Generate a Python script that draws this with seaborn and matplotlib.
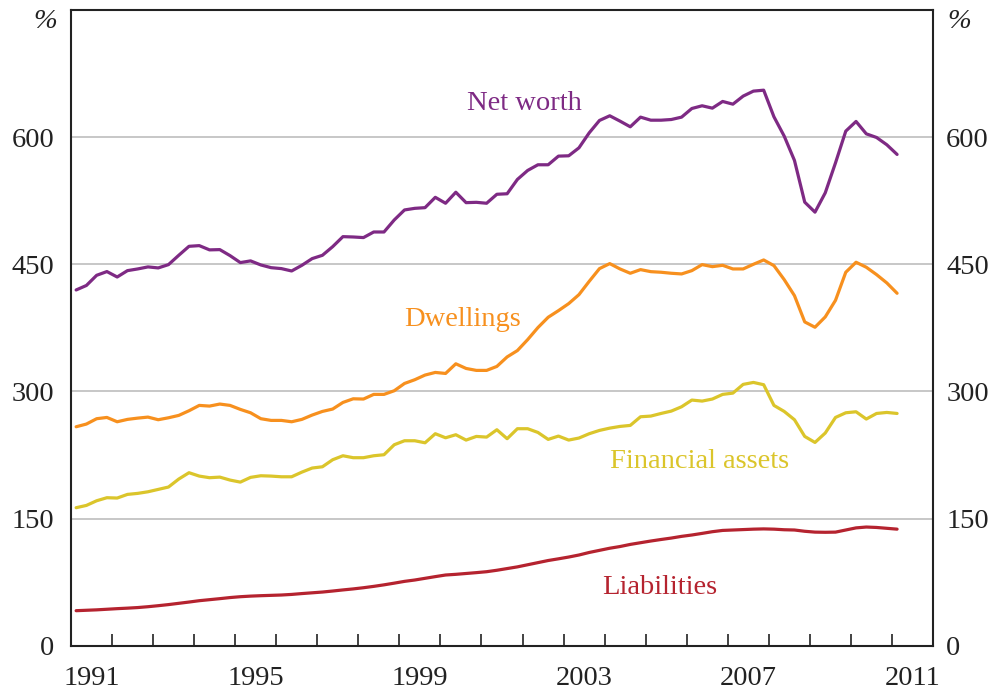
import numpy as np
import pandas as pd
import matplotlib
matplotlib.use("Agg")
import matplotlib.pyplot as plt
import seaborn as sns

# Quarterly observations, 1991 Q1 .. 2011 Q1 (81 quarters)
quarters = pd.period_range("1991Q1", "2011Q1", freq="Q")

net_worth = [419.7, 425.0, 437.0, 441.4, 435.0, 442.5, 444.5, 446.9, 445.7, 449.6,
             460.6, 471.2, 472.0, 467.0, 467.3, 460.2, 452.0, 454.0, 449.2, 446.0,
             444.9, 442.1, 448.8, 456.7, 460.6, 470.8, 482.6, 482.2, 481.5, 488.1,
             488.1, 502.3, 514.1, 516.0, 516.8, 529.0, 522.0, 535.0, 522.7, 523.1,
             522.0, 532.6, 533.2, 550.1, 560.7, 567.4, 567.4, 577.6, 578.0, 587.4,
             605.1, 619.7, 625.2, 618.9, 612.2, 623.6, 620.0, 620.0, 620.8, 623.6,
             633.8, 637.0, 634.2, 642.1, 638.9, 648.4, 654.3, 655.4, 624.0, 601.2,
             572.5, 523.3, 511.5, 534.3, 569.7, 607.1, 618.5, 603.9, 599.6, 591.0,
             579.6]

dwellings = [258.3, 261.5, 267.8, 269.3, 264.2, 267.0, 268.5, 269.7, 266.6, 268.9,
             271.7, 277.2, 283.5, 282.7, 285.1, 283.5, 278.8, 274.8, 267.8, 265.8,
             265.8, 264.2, 267.0, 272.1, 276.4, 279.2, 287.0, 291.3, 291.0, 296.5,
             296.5, 300.8, 309.4, 313.8, 319.3, 322.4, 321.2, 332.6, 327.1, 324.8,
             324.8, 329.5, 340.7, 348.2, 361.1, 375.3, 387.5, 395.3, 403.6, 414.2,
             429.9, 444.9, 450.8, 444.5, 439.4, 443.7, 441.3, 440.6, 439.4, 438.6,
             442.5, 449.6, 447.2, 448.8, 444.5, 444.5, 450.0, 455.1, 448.4, 431.9,
             413.0, 382.0, 375.7, 387.9, 407.5, 440.6, 452.4, 446.5, 437.8, 428.0,
             415.8]

financial_assets = [162.8, 165.5, 171.0, 174.6, 174.2, 178.5, 179.7, 181.6, 184.4, 187.2,
                    196.6, 204.1, 200.1, 198.2, 198.9, 195.4, 193.0, 198.6, 200.5, 200.1,
                    199.3, 199.3, 204.8, 209.6, 211.1, 219.4, 224.1, 221.8, 221.8, 224.1,
                    225.3, 237.1, 241.8, 241.8, 239.4, 250.1, 245.3, 248.9, 242.6, 246.9,
                    246.1, 254.8, 244.2, 256.0, 256.0, 251.6, 243.4, 247.3, 242.6, 245.0,
                    250.1, 254.0, 256.7, 258.7, 259.9, 270.1, 270.9, 274.0, 276.8, 281.9,
                    289.8, 288.6, 291.0, 296.5, 298.0, 308.3, 310.6, 307.9, 283.5, 276.4,
                    266.6, 246.9, 239.8, 250.9, 269.3, 274.8, 276.0, 267.4, 274.0, 275.2,
                    274.0]

liabilities = [41.3, 41.8, 42.3, 43.0, 43.7, 44.3, 45.0, 46.0, 47.2, 48.5,
               50.0, 51.5, 53.1, 54.3, 55.5, 56.8, 57.8, 58.5, 59.0, 59.4,
               59.8, 60.5, 61.5, 62.4, 63.3, 64.5, 65.8, 67.0, 68.4, 70.0,
               71.8, 73.8, 75.9, 77.5, 79.5, 81.5, 83.4, 84.2, 85.2, 86.2,
               87.3, 89.0, 91.0, 93.0, 95.5, 98.0, 100.5, 102.5, 104.6, 107.0,
               110.0, 112.5, 115.0, 117.0, 119.5, 121.5, 123.5, 125.3, 127.0, 129.0,
               130.6, 132.5, 134.5, 136.0, 136.5, 137.0, 137.5, 137.8, 137.5, 136.8,
               136.5, 135.0, 134.0, 133.8, 134.0, 136.5, 139.0, 140.0, 139.5, 138.5,
               137.5]

series_names = ["Net worth", "Dwellings", "Financial assets", "Liabilities"]
colors = {"Net worth": "#7E2A84", "Dwellings": "#F7901E",
          "Financial assets": "#DBC52B", "Liabilities": "#B5232F"}

year_pos = quarters.year + (quarters.quarter - 1) * 0.25 + 0.125
df = pd.concat([
    pd.DataFrame({"x": year_pos, "value": vals, "series": name})
    for name, vals in zip(series_names, [net_worth, dwellings, financial_assets, liabilities])
])

sns.set_theme(style="white")
plt.rcParams["font.family"] = ["Liberation Serif", "DejaVu Serif"]

FS = 20.5
fig = plt.figure(figsize=(9.92, 6.91), dpi=100)
ax = fig.add_axes([71 / 992, 1 - 645.7 / 691, (933 - 71) / 992, (645.7 - 10) / 691])

sns.lineplot(data=df, x="x", y="value", hue="series", palette=colors,
             hue_order=series_names, linewidth=2.3, ax=ax, legend=False)

ax.set_xlim(1991, 2012)
ax.set_ylim(0, 750)
yt = [0, 150, 300, 450, 600]
ax.set_yticks(yt)
ax.set_yticklabels([str(v) for v in yt])
for v in [150, 300, 450, 600]:
    ax.axhline(v, color="#BDBDBD", linewidth=1.2, zorder=0)

ax.set_xticks(np.arange(1992, 2012))
ax.set_xticklabels([])
lab_years = [1991, 1995, 1999, 2003, 2007, 2011]
ax.set_xticks([y + 0.5 for y in lab_years], minor=True)
ax.set_xticklabels([str(y) for y in lab_years], minor=True)
ax.tick_params(axis="x", which="major", direction="in", length=8.5, width=1.2,
               color="#222222", bottom=True)
ax.tick_params(axis="x", which="minor", length=0, pad=14.5, labelsize=FS, labelcolor="#222222")
ax.tick_params(axis="y", length=0, pad=12, labelsize=FS, labelcolor="#222222", left=False)
ax.set_xlabel("")
ax.set_ylabel("")

for s in ax.spines.values():
    s.set_visible(True)
    s.set_color("#222222")
    s.set_linewidth(1.5)

ax2 = ax.twinx()
ax2.set_ylim(0, 750)
ax2.set_yticks(yt)
ax2.set_yticklabels([str(v) for v in yt])
ax2.tick_params(axis="y", length=0, pad=9.5, labelsize=FS, labelcolor="#222222", right=False)
for s in ax2.spines.values():
    s.set_visible(False)

fig.text(45 / 992, 1 - 22 / 691, "%", fontsize=FS, style="italic", ha="center", va="center", color="#222222")
fig.text(959 / 992, 1 - 22 / 691, "%", fontsize=FS, style="italic", ha="center", va="center", color="#222222")

def label(xp, yp, txt):
    fig.text(xp / 992, 1 - yp / 691, txt, fontsize=FS, ha="center", va="center", color=colors[txt])

label(524, 103, "Net worth")
label(463, 320, "Dwellings")
label(700, 461, "Financial assets")
label(660, 587, "Liabilities")

fig.savefig("out.png", dpi=100)
